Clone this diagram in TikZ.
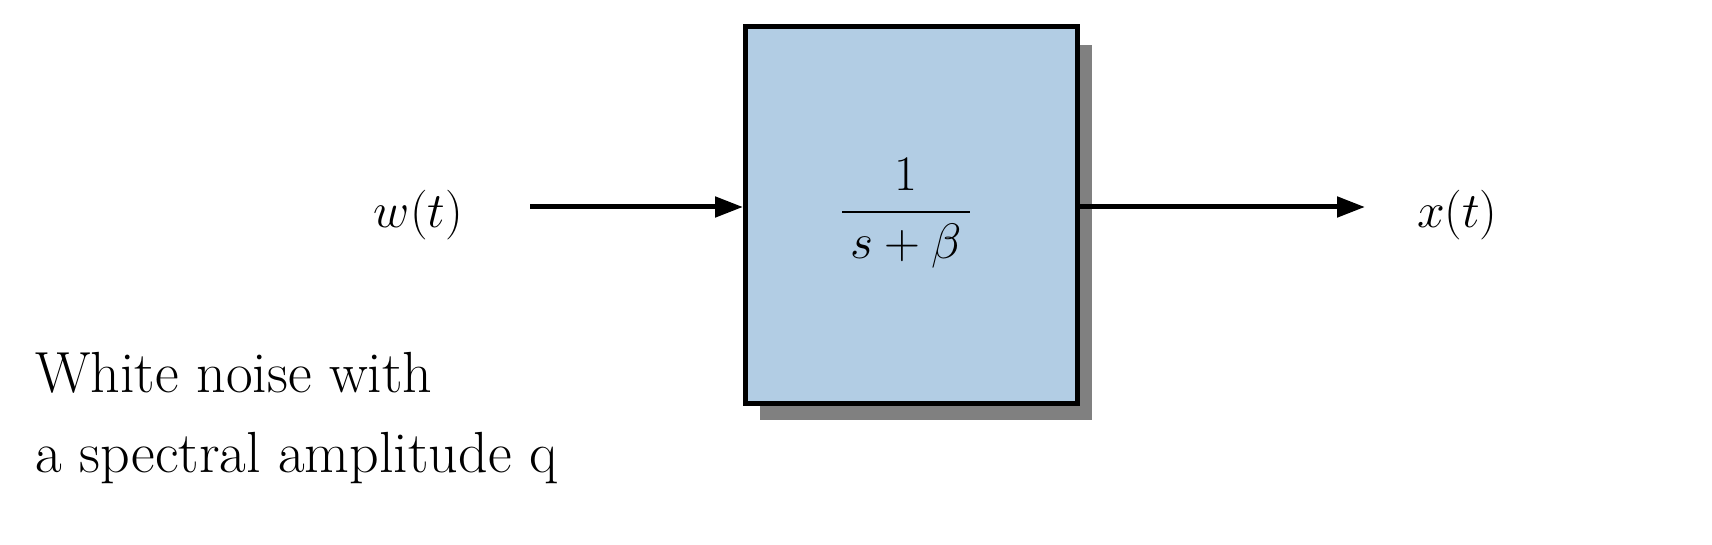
\documentclass[tikz,border=0pt]{standalone}
\usepackage{amsmath}
\usetikzlibrary{arrows.meta}
\definecolor{boxblue}{HTML}{B2CDE4}
\definecolor{shad}{HTML}{808080}
\begin{document}
\begin{tikzpicture}[x=0.5pt,y=-0.5pt,
  conn/.style={line width=2.5pt,-{Triangle[length=14pt,width=10pt]}},
  lbl/.style={font=\fontsize{40}{48}\selectfont},
  note/.style={font=\fontsize{29}{36}\selectfont,align=left,anchor=north west,inner sep=0pt}]
\useasboundingbox (0,0) rectangle (1712,545);
\fill[shad] (760,45) rectangle (1092,420);
\node[draw,line width=2.5pt,fill=boxblue,minimum width=166pt,minimum height=188pt,inner sep=0pt] (tf) at (911.5,215) {};
\node[lbl] at (906,213) {$\dfrac{\;1\;}{\,s+\beta\,}$};
\node[lbl,anchor=east] (w) at (470,215) {$w(t)$};
\node[lbl,anchor=west] (x) at (1410,215) {$x(t)$};
\coordinate (ws) at (530,207);
\coordinate (xe) at (1365,207);
\draw[conn] (ws) -- (ws -| tf.west);
\draw[conn] (tf.east |- xe) -- (xe);
\node[note] (n) at (35,352) {White noise with\\[4pt]a spectral amplitude q};
\end{tikzpicture}
\end{document}
